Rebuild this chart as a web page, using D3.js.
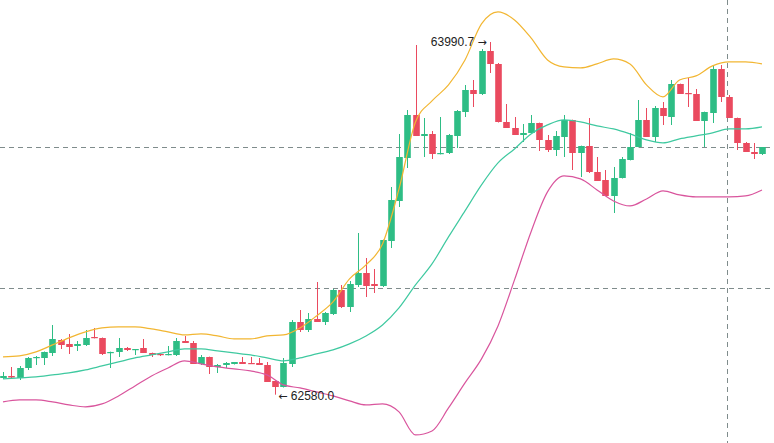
<!DOCTYPE html>
<html>
<head>
<meta charset="utf-8">
<script src="https://cdn.jsdelivr.net/npm/d3@7/dist/d3.min.js"></script>
<style>
  html, body { margin: 0; padding: 0; background: #ffffff; }
  svg { display: block; }
  text { font-family: "Liberation Sans", Arial, sans-serif; }
</style>
</head>
<body>
<div id="chart"></div>
<script>
// ---- DATA ----
const opens = [62646.7,62654.7,62646.7,62686.7,62726.7,62726.7,62746.7,62798.7,62782.7,62774.7,
62778.7,62810.7,62806.7,62746.7,62750.7,62766.7,62758.7,62766.7,62746.7,62742.7,
62738.7,62738.7,62794.7,62786.7,62702.7,62730.7,62690.7,62698.7,62702.7,62710.7,
62706.7,62706.7,62698.7,62634.7,62610.7,62702.7,62870.7,62838.7,62882.7,62870.7,
62902.7,62998.7,62930.7,63018.7,63066.7,63022.7,63014.7,63194.7,63354.7,63526.7,
63698.7,63614.7,63622.7,63542.7,63546.7,63614.7,63710.7,63798.7,63782.7,63954.7,
63902.7,63670.7,63646.7,63618.7,63626.7,63666.7,63598.7,63558.7,63610.7,63678.7,
63546.7,63574.7,63470.7,63438.7,63374.7,63446.7,63518.7,63570.7,63678.7,63610.7,
63726.7,63690.7,63822.7,63786.7,63782.7,63674.7,63706.7,63882.7,63770.7,63686.7,
63586.7,63550.7,63542.7];
const highs = [62670.7,62690.7,62694.7,62730.7,62734.7,62752.7,62858.7,62802.7,62822.7,62794.7,
62838.7,62846.7,62808.7,62752.2,62806.7,62770.7,62762.7,62802.7,62748.2,62744.2,
62774.7,62806.7,62814.7,62794.7,62738.7,62732.2,62702.7,62710.7,62710.7,62730.7,
62730.7,62726.7,62710.7,62636.2,62726.7,62878.7,62918.7,62906.7,63030.7,62910.7,
63002.7,63018.7,63034.7,63226.7,63126.7,63082.7,63200.2,63410.7,63622.7,63718.7,
63978.7,63686.7,63634.7,63690.7,63622.7,63718.7,63818.7,63838.7,63962.7,63990.7,
63906.7,63742.7,63690.7,63662.7,63698.7,63668.2,63618.7,63634.7,63698.7,63680.2,
63576.2,63686.7,63530.7,63478.7,63490.7,63530.7,63626.7,63758.7,63726.7,63734.7,
63750.7,63838.7,63824.2,63846.7,63802.7,63712.2,63898.7,63898.7,63778.7,63688.2,
63590.7,63586.7,63570.7];
const lows = [62642.7,62646.7,62638.7,62678.7,62698.7,62698.7,62734.7,62762.7,62742.7,62754.7,
62774.7,62805.2,62738.7,62686.7,62730.7,62754.7,62738.7,62746.7,62730.7,62734.7,
62737.2,62734.7,62786.7,62702.7,62698.7,62662.7,62666.7,62686.7,62700.7,62702.7,
62702.7,62698.7,62630.7,62580.0,62608.7,62690.7,62830.7,62830.7,62870.7,62858.7,
62898.7,62926.7,62910.7,63010.7,62970.7,62986.7,63010.7,63166.7,63330.7,63486.7,
63614.7,63530.7,63522.7,63541.2,63542.7,63566.7,63690.7,63730.7,63778.7,63866.7,
63668.7,63646.7,63618.7,63590.7,63625.2,63554.7,63550.7,63534.7,63530.7,63478.7,
63450.7,63466.7,63434.7,63374.7,63306.7,63444.7,63517.2,63569.2,63610.7,63590.7,
63658.7,63658.7,63782.7,63730.7,63674.7,63570.7,63666.7,63750.7,63686.7,63558.7,
63550.7,63522.7,63538.7];
const closes = [62654.7,62648.7,62686.7,62726.7,62730.7,62750.7,62802.7,62778.7,62770.7,62782.7,
62806.7,62806.7,62742.7,62750.7,62766.7,62758.7,62762.7,62746.7,62738.7,62738.7,
62742.7,62794.7,62786.7,62702.7,62730.7,62690.7,62698.7,62706.7,62710.7,62702.7,
62702.7,62698.7,62630.7,62610.7,62706.7,62870.7,62838.7,62882.7,62870.7,62906.7,
62998.7,62930.7,63022.7,63066.7,63014.7,63014.7,63198.7,63358.7,63530.7,63698.7,
63614.7,63622.7,63542.7,63546.7,63618.7,63714.7,63798.7,63782.7,63954.7,63902.7,
63670.7,63646.7,63618.7,63626.7,63666.7,63598.7,63558.7,63614.7,63678.7,63546.7,
63574.7,63470.7,63434.7,63374.7,63446.7,63522.7,63570.7,63678.7,63610.7,63726.7,
63694.7,63822.7,63782.7,63782.7,63674.7,63710.7,63882.7,63770.7,63686.7,63586.7,
63550.7,63542.7,63570.7];

// Bollinger band readings, one every second candle (candle index in bandIndex)
const bandIndex = [0,2,4,6,8,10,12,14,16,18,20,22,24,26,28,30,32,34,36,38,40,42,44,46,48,50,
52,54,56,58,60,62,64,66,68,70,72,74,76,78,80,82,84,86,88,90,92];
const bandUpper = [62731,62735,62751,62779,62807,62831,62847,62851,62851,62843,62831,62819,62823,
62815,62803,62803,62815,62819,62847,62895,62951,63043,63099,63183,63403,63671,63755,63819,
63919,64063,64111,64079,64007,63919,63891,63887,63903,63923,63903,63819,63771,63839,63855,
63895,63911,63911,63903];
const bandMiddle = [62643,62647,62651,62659,62667,62679,62695,62711,62727,62739,62751,62763,62763,
62755,62747,62739,62727,62715,62727,62743,62759,62783,62815,62859,62927,63019,63103,63211,
63315,63419,63507,63563,63623,63659,63679,63671,63655,63643,63623,63599,63587,63603,63615,
63627,63643,63643,63651];
const bandLower = [62551,62559,62559,62551,62539,62531,62543,62575,62615,62655,62687,62715,62703,
62691,62683,62675,62659,62619,62607,62591,62575,62555,62539,62543,62511,62419,62435,62527,
62627,62723,62855,63039,63231,63391,63455,63443,63399,63355,63335,63363,63395,63379,63371,
63371,63371,63375,63399];

const refLevel = 63006.7;     // second dashed price level
const crosshairIndex = 88;    // vertical dashed crosshair
const priceView = [62386.7, 64158.7];

// ---- LAYOUT ----
const W = 774, H = 443;
const svg = d3.select("#chart").append("svg").attr("width", W).attr("height", H);

const n = closes.length;
const x = d3.scaleLinear().domain([0, n - 1]).range([3, 762]);
const y = d3.scaleLinear().domain(priceView).range([H, 0]);
const bodyW = 6.6;

const candles = d3.range(n).map(i => ({i, o: opens[i], h: highs[i], l: lows[i], c: closes[i]}));
const GREEN = "#2ebd85", RED = "#ea4a5f";

// dashed levels
const levels = [closes[n - 1], refLevel];
svg.append("g").selectAll("line").data(levels).join("line")
  .attr("x1", 0).attr("x2", W)
  .attr("y1", d => Math.round(y(d)) + 0.5).attr("y2", d => Math.round(y(d)) + 0.5)
  .attr("stroke", "#7f8c8c").attr("stroke-width", 1).attr("stroke-dasharray", "5,4");

svg.append("line")
  .attr("x1", Math.round(x(crosshairIndex)) - 1.5).attr("x2", Math.round(x(crosshairIndex)) - 1.5)
  .attr("y1", 0).attr("y2", H)
  .attr("stroke", "#7f8c8c").attr("stroke-width", 1).attr("stroke-dasharray", "5,4");

// candles
const g = svg.append("g");
const cg = g.selectAll("g.c").data(candles).join("g").attr("class", "c");
cg.append("line")
  .attr("x1", d => Math.round(x(d.i)) + 0.5).attr("x2", d => Math.round(x(d.i)) + 0.5)
  .attr("y1", d => y(d.h)).attr("y2", d => y(d.l))
  .attr("stroke", d => d.c >= d.o ? GREEN : RED).attr("stroke-width", 1);
cg.append("rect")
  .attr("x", d => Math.round(x(d.i)) + 0.5 - bodyW / 2)
  .attr("width", bodyW)
  .attr("y", d => y(Math.max(d.o, d.c)))
  .attr("height", d => Math.max(1.2, Math.abs(y(d.o) - y(d.c))))
  .attr("fill", d => d.c >= d.o ? GREEN : RED);

// bands
const line = d3.line().x(d => x(d[0])).y(d => y(d[1])).curve(d3.curveMonotoneX);
const bands = [
  {vals: bandUpper, color: "#f2b632"},
  {vals: bandMiddle, color: "#3fc9a0"},
  {vals: bandLower, color: "#d9559d"}
];
svg.append("g").selectAll("path").data(bands).join("path")
  .attr("d", b => line(bandIndex.map((k, j) => [k, b.vals[j]])))
  .attr("fill", "none").attr("stroke", b => b.color).attr("stroke-width", 1.2);

// extreme labels
const hiI = d3.maxIndex(highs), loI = d3.minIndex(lows);
const hiT = svg.append("text")
  .attr("x", x(hiI) - 3).attr("y", y(highs[hiI]) + 4)
  .attr("text-anchor", "end").attr("font-size", 12).attr("fill", "#222");
hiT.append("tspan").text(highs[hiI].toFixed(1) + " ");
hiT.append("tspan").attr("font-family", "DejaVu Sans").attr("font-size", 11).text("→");

const loT = svg.append("text")
  .attr("x", x(loI) + 3).attr("y", y(lows[loI]) + 5)
  .attr("text-anchor", "start").attr("font-size", 12).attr("fill", "#222");
loT.append("tspan").attr("font-family", "DejaVu Sans").attr("font-size", 11).text("←");
loT.append("tspan").text(" " + lows[loI].toFixed(1));
</script>
</body>
</html>
